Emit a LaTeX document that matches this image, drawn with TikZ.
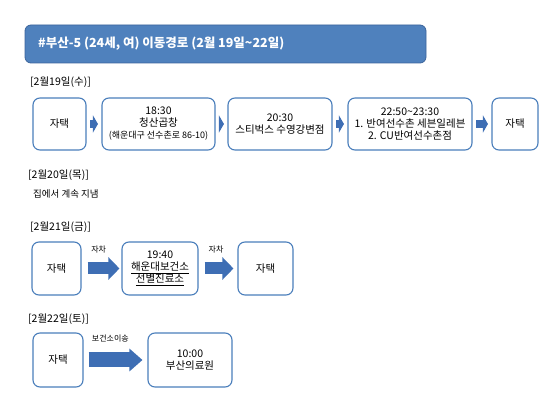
\documentclass[tikz,border=0pt]{standalone}
\usepackage{fontspec}
\setmainfont{Noto Sans CJK KR}
\usetikzlibrary{arrows.meta}
\definecolor{titleblue}{RGB}{79,129,189}
\definecolor{titleedge}{RGB}{60,100,155}
\definecolor{boxedge}{RGB}{74,126,187}
\definecolor{arrowblue}{RGB}{62,110,180}
\tikzset{
  stopbox/.style={draw=boxedge,line width=1.1pt,rounded corners=7pt,fill=white,align=center,inner sep=0pt,font=\fontsize{10.5}{12}\selectfont},
  daylbl/.style={anchor=west,inner sep=0pt,font=\fontsize{10.5}{12}\selectfont},
  smallarrow/.style={arrowblue,line width=8pt,-{Triangle[length=5pt,width=17pt]},shorten <=3.5pt,shorten >=3.5pt},
  bigarrow/.style={arrowblue,line width=12pt,-{Triangle[length=#1,width=22pt]}},
  arrowlbl/.style={text=black,inner sep=0pt,font=\fontsize{8}{9}\selectfont},
}
\begin{document}
\begin{tikzpicture}[x=1pt,y=-1pt]
\useasboundingbox (0,0) rectangle (550,403);
% title
\node[draw=titleedge,fill=titleblue,rounded corners=6pt,line width=0.8pt,minimum width=401pt,minimum height=38pt,inner sep=0pt] (title) at (225.5,44) {};
\node[anchor=west,text=white,inner sep=0pt,font=\fontsize{12.5}{14}\bfseries] (titletxt) at (38,44) {\#부산-5 (24세, 여) 이동경로 (2월 19일\textasciitilde 22일)};
% 2월 19일
\node[daylbl] (d19) at (30,82) {[2월19일(수)]};
\foreach \bn/\bx/\bw/\btxt in {h1/59.5/53/{자택},s1/158.5/113/{18:30\\청산곱창\\{\fontsize{9}{11}\selectfont(해운대구 선수촌로 86-10)}},s2/280/104/{20:30\\스티벅스 수영강변점},s3/410/124/{22:50\textasciitilde 23:30\\1. 반여선수촌 세븐일레븐\\2. CU반여선수촌점},h2/515/46/{자택}}{\node[stopbox,minimum width=\bw pt,minimum height=52pt] (\bn) at (\bx,124) {\btxt};}
\foreach \a/\b in {h1/s1,s1/s2,s2/s3,s3/h2}{\draw[smallarrow] (\a) -- (\b);}
% 2월 20일
\node[daylbl] (d20) at (28,175) {[2월20일(목)]};
\node[anchor=west,inner sep=0pt,font=\fontsize{9.5}{11}\selectfont] (stay) at (33,194) {집에서 계속 지냄};
% 2월 21일
\node[daylbl] (d21) at (30,227) {[2월21일(금)]};
\node[stopbox,minimum width=49pt,minimum height=53pt] (h3) at (56.5,268.5) {자택};
\node[stopbox,minimum width=76pt,minimum height=53pt] (r2) at (160,268.5) {19:40\\\underline{해운대보건소}\\\underline{선별진료소}};
\node[stopbox,minimum width=55pt,minimum height=53pt] (h4) at (265.5,268.5) {자택};
\draw[bigarrow=11pt,shorten <=6pt,shorten >=2pt] (h3) -- node[arrowlbl,pos=0.43,above=9.5pt] (car1) {자차} (r2);
\draw[bigarrow=11pt,shorten <=6pt,shorten >=4pt] (r2) -- node[arrowlbl,pos=0.45,above=9.5pt] (car2) {자차} (h4);
% 2월 22일
\node[daylbl] (d22) at (28,319) {[2월22일(토)]};
\node[stopbox,minimum width=50pt,minimum height=54pt] (h5) at (58,360) {자택};
\node[stopbox,minimum width=84pt,minimum height=54pt] (m1) at (190,360) {10:00\\부산의료원};
\draw[bigarrow=13pt,line width=15pt,shorten <=5pt,shorten >=5pt] (h5) -- node[arrowlbl,pos=0.42,above=10pt] (move) {보건소이송} (m1);
\end{tikzpicture}
\end{document}
